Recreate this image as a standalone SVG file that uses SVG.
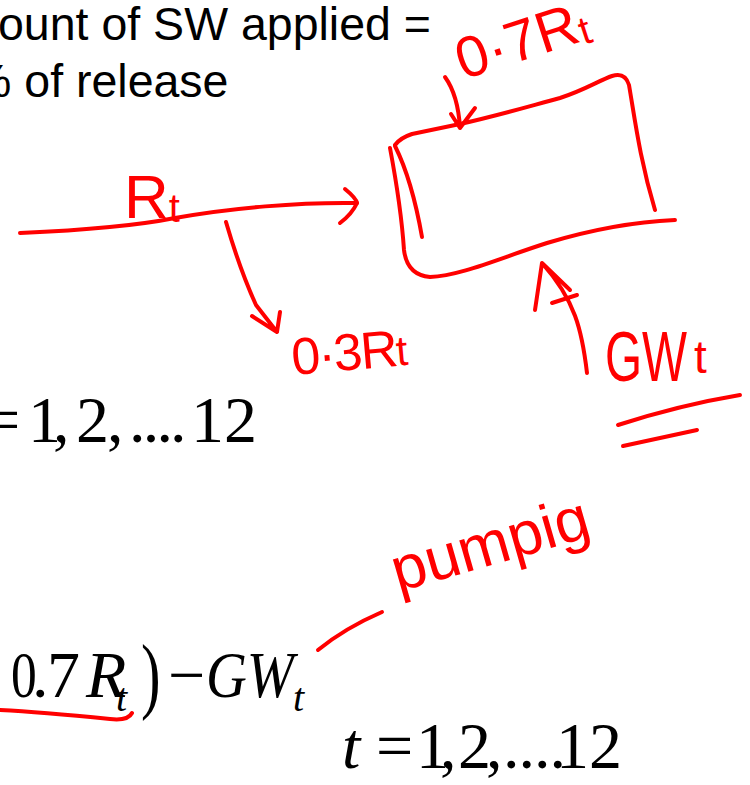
<svg xmlns="http://www.w3.org/2000/svg" width="750" height="785" viewBox="0 0 750 785">
<style>
.ink{fill:none;stroke:#ff0000;stroke-width:4;stroke-linecap:round;stroke-linejoin:round}
.hand{font-family:"Liberation Sans","DejaVu Sans",sans-serif;fill:#ff0000}
.body{font-family:"Liberation Sans",Arial,sans-serif;fill:#000;font-size:46.5px}
.math{font-family:"Liberation Serif","Times New Roman",serif;fill:#000;font-size:66px}
.sub{font-size:40px;font-style:italic}
.it{font-style:italic}
</style>
<rect width="750" height="785" fill="#fff"/>
<g id="heading">
<text class="body" x="-2" y="40">ount of SW applied =</text>
<text class="body" x="-30" y="97">% of release</text>
</g>
<g id="equations">
<text class="math" y="442"><tspan x="-17">=</tspan><tspan x="28">1</tspan><tspan x="53">,</tspan><tspan x="76">2</tspan><tspan x="107">,</tspan><tspan x="129" letter-spacing="-2.8">....</tspan><tspan x="191">12</tspan></text>
<text class="math" transform="translate(11,0) scale(0.78,1)" x="0" y="697">0</text>
<text class="math" y="697"><tspan x="32">.</tspan><tspan x="47">7</tspan><tspan class="it" x="86">R</tspan></text>
<text class="math sub" x="116" y="711">t</text>
<text class="math" transform="translate(141,0) scale(0.7,1)" x="0" y="703" style="font-size:84px">)</text>
<text class="math" x="168" y="697">−</text>
<text class="math it" x="206" y="697" textLength="88" lengthAdjust="spacingAndGlyphs">GW</text>
<text class="math sub" x="293" y="711">t</text>
<text class="math" y="768"><tspan class="it" x="342">t</tspan><tspan x="376">=</tspan><tspan x="416">1</tspan><tspan x="440">,</tspan><tspan x="458">2</tspan><tspan x="486">,</tspan><tspan x="503" letter-spacing="-1">....</tspan><tspan x="556">12</tspan></text>
</g>
<g id="tank">
<path class="ink" d="M395,145 Q400,138 412,134 L460,124 C500,115 530,106 560,98 C585,90 600,80 612,76 Q625,72 629,85 C635,120 640,160 655,210"/>
<path class="ink" d="M390,148 C396,180 402,220 404,250 Q407,275 430,277 C460,276 500,258 547,243 C590,230 630,222 675,220"/>
<path class="ink" d="M395,146 Q412,180 422,237"/>
</g>
<g id="connectors">
<path class="ink" d="M20,233 C90,230 140,225 175,218 C230,208 300,202 357,203"/>
<path class="ink" d="M345,189 Q356,198 357,203 Q352,214 340,223"/>
<path class="ink" d="M226,222 Q240,270 256,305 L277,332 M252,316 L277,332 L280,312"/>
<path class="ink" d="M445,77 Q458,95 460,128 M451,114 L460,128 L475,108"/>
<path class="ink" d="M587,373 C582,330 575,300 542,263 L535,310 M542,263 L570,290 M552,303 L577,295"/>
<path class="ink" d="M618,425 Q680,405 740,395 M623,446 L697,430"/>
<path class="ink" d="M318,650 Q345,628 382,612"/>
<path class="ink" d="M0,710 C40,712 80,716 110,719 Q128,721 132,713"/>
</g>
<g id="labels">
<text class="hand" style="font-size:62px" x="124" y="218">R<tspan style="font-size:40px" dy="4">t</tspan></text>
<text class="hand" style="font-size:58px" transform="rotate(-18 463 80)" x="463" y="80">0·7R<tspan style="font-size:40px" dy="4">t</tspan></text>
<text class="hand" style="font-size:52px" transform="rotate(-5 293 375)" x="293" y="375" letter-spacing="-2">0·3R<tspan style="font-size:42px">t</tspan></text>
<text class="hand" style="font-size:70px" x="605" y="381" textLength="82" lengthAdjust="spacingAndGlyphs">GW</text>
<text class="hand" style="font-size:46px" x="694" y="373">t</text>
<text class="hand" style="font-size:62px" transform="rotate(-16 398 592)" x="398" y="592">pumpig</text>
</g>
</svg>
